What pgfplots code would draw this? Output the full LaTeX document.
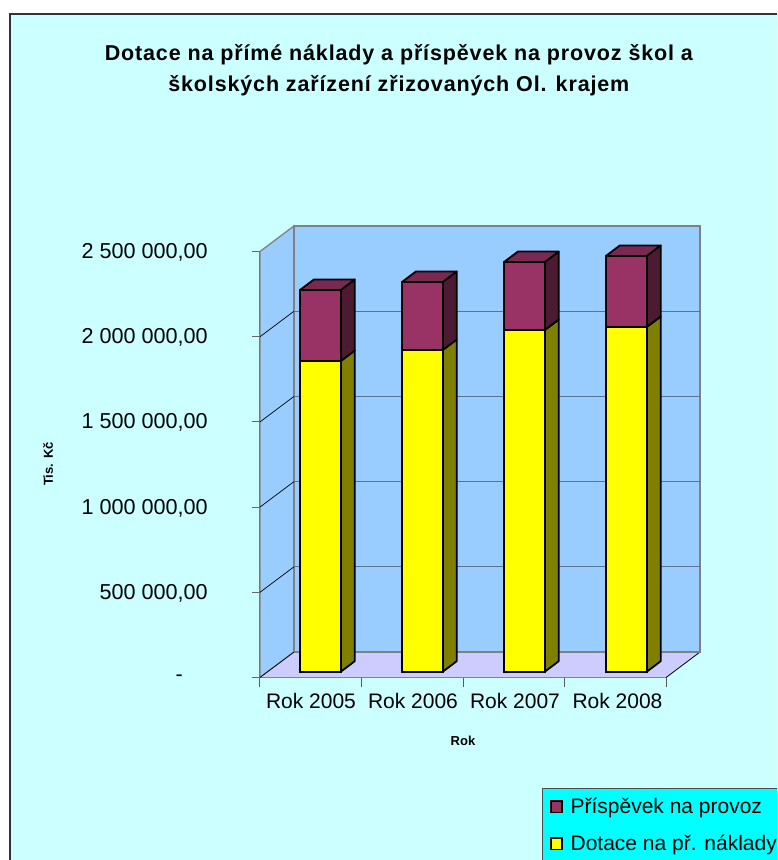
\documentclass[border=0pt]{standalone}
\usepackage{pgfplots}
\pgfplotsset{compat=1.18}
\usepackage{fontspec}
\setmainfont{Liberation Sans}
\newfontfamily\titlefont[LetterSpace=4]{Liberation Sans}
\definecolor{bgc}{HTML}{CCFFFF}
\definecolor{wallc}{HTML}{99CCFF}
\definecolor{floorc}{HTML}{CCCCFF}
\definecolor{maroonc}{HTML}{993366}
\definecolor{maroons}{HTML}{4D1A33}
\definecolor{maroont}{HTML}{7A2952}
\definecolor{yellowc}{HTML}{FFFF00}
\definecolor{yellows}{HTML}{808000}
\definecolor{legc}{HTML}{00FFFF}
\definecolor{gridc}{HTML}{5A7390}
\begin{document}
\begin{tikzpicture}[x=1pt,y=1pt]
\useasboundingbox (0,0) rectangle (777,860);
\clip (0,0) rectangle (777,860);
\draw[fill=bgc,draw=black!80,line width=1.2pt] (10,-10) rectangle (800,846);
% axis with walls, floor, gridlines, scales and labels
\begin{axis}[
  at={(260pt,182.5pt)},anchor=south west,
  scale only axis,width=406pt,height=426pt,
  xmin=0,xmax=4,ymin=0,ymax=2500000,clip=false,
  axis lines*=left,
  axis line style={black!65,line width=1pt},
  scaled y ticks=false,
  xtick={0.502,1.507,2.512,3.522},
  xticklabels={Rok 2005,Rok 2006,Rok 2007,Rok 2008},
  major x tick style={draw=none},
  minor xtick={0,1,2,3,4},
  minor tick length=9pt,
  minor tick style={black!65,line width=1pt},
  ytick={0,500000,1000000,1500000,2000000,2500000},
  yticklabels={{-\hspace*{25pt}},{500 000,00},{1 000 000,00},{1 500 000,00},{2 000 000,00},{2 500 000,00}},
  major y tick style={black!60,line width=1pt},
  tick align=outside,
  major tick length=8pt,
  yticklabel style={font=\fontsize{21.6}{24}\selectfont,inner sep=0pt,xshift=-44pt,yshift=-0.8pt},
  xticklabel style={font=\fontsize{21}{24}\selectfont,inner sep=0pt,yshift=-8pt},
  title={{\titlefont\bfseries Dotace na přímé náklady a příspěvek na provoz škol a}\\[6.5pt]{\titlefont\bfseries školských zařízení zřizovaných Ol. krajem}},
  title style={at={(rel axis cs:0.342,1.412)},anchor=center,align=center,font=\fontsize{21.5}{24}\selectfont,inner sep=0pt},
  xlabel={\bfseries Rok},
  xlabel style={at={(rel axis cs:0.5,-0.149)},anchor=center,font=\fontsize{13}{15}\selectfont,inner sep=0pt},
  ylabel={\bfseries Tis. Kč},
  ylabel style={at={(rel axis cs:-0.522,0.501)},anchor=center,rotate=0,font=\fontsize{13}{15}\selectfont,inner sep=0pt},
]
\addplot[fill=wallc,draw=black!50,line width=1.3pt,forget plot] coordinates {(0,0) (0.335,149650) (0.335,2649650) (0,2500000)} --cycle;
\addplot[fill=wallc,draw=black!50,line width=1.3pt,forget plot] coordinates {(0.335,149650) (4.335,149650) (4.335,2649650) (0.335,2649650)} --cycle;
\addplot[fill=floorc,draw=none,forget plot] coordinates {(0,0) (4,0) (4.335,149650) (0.335,149650)} --cycle;
\addplot[black,line width=0.8pt,forget plot] coordinates {(0,0) (0.335,149650)};
\addplot[black,line width=0.8pt,forget plot] coordinates {(4,0) (4.335,149650)};
\addplot[black!50,line width=1.3pt,forget plot] coordinates {(0.335,149650) (4.335,149650)};
\addplot[black,line width=0.7pt,forget plot] coordinates {(0,500000) (0.335,649650)};
\addplot[black,line width=0.7pt,forget plot] coordinates {(0,1000000) (0.335,1149650)};
\addplot[black,line width=0.7pt,forget plot] coordinates {(0,1500000) (0.335,1649650)};
\addplot[black,line width=0.7pt,forget plot] coordinates {(0,2000000) (0.335,2149650)};
\addplot[gridc,line width=1.2pt,forget plot] coordinates {(0.335,649650) (4.335,649650)};
\addplot[gridc,line width=1.2pt,forget plot] coordinates {(0.335,1149650) (4.335,1149650)};
\addplot[gridc,line width=1.2pt,forget plot] coordinates {(0.335,1649650) (4.335,1649650)};
\addplot[gridc,line width=1.2pt,forget plot] coordinates {(0.335,2149650) (4.335,2149650)};
\end{axis}
% depth faces of the columns
\begin{axis}[
  at={(269.35pt,188.3pt)},anchor=south west,
  scale only axis,width=408pt,height=426pt,
  xmin=0,xmax=4,ymin=0,ymax=2500000,clip=false,hide axis,
]
% 2005
\addplot[fill=yellows,draw=black,line width=1.8pt,line join=round] coordinates {(0.7,0) (0.837,61600) (0.837,1884600) (0.7,1823000)} --cycle;
\addplot[fill=maroons,draw=black,line width=1.8pt,line join=round] coordinates {(0.7,1823000) (0.837,1884600) (0.837,2301600) (0.7,2240000)} --cycle;
\addplot[fill=maroont,draw=black,line width=1.8pt,line join=round] coordinates {(0.3,2240000) (0.437,2301600) (0.837,2301600) (0.7,2240000)} --cycle;
% 2006
\addplot[fill=yellows,draw=black,line width=1.8pt,line join=round] coordinates {(1.7,0) (1.837,61600) (1.837,1949600) (1.7,1888000)} --cycle;
\addplot[fill=maroons,draw=black,line width=1.8pt,line join=round] coordinates {(1.7,1888000) (1.837,1949600) (1.837,2348600) (1.7,2287000)} --cycle;
\addplot[fill=maroont,draw=black,line width=1.8pt,line join=round] coordinates {(1.3,2287000) (1.437,2348600) (1.837,2348600) (1.7,2287000)} --cycle;
% 2007
\addplot[fill=yellows,draw=black,line width=1.8pt,line join=round] coordinates {(2.7,0) (2.837,61600) (2.837,2066600) (2.7,2005000)} --cycle;
\addplot[fill=maroons,draw=black,line width=1.8pt,line join=round] coordinates {(2.7,2005000) (2.837,2066600) (2.837,2465600) (2.7,2404000)} --cycle;
\addplot[fill=maroont,draw=black,line width=1.8pt,line join=round] coordinates {(2.3,2404000) (2.437,2465600) (2.837,2465600) (2.7,2404000)} --cycle;
% 2008
\addplot[fill=yellows,draw=black,line width=1.8pt,line join=round] coordinates {(3.7,0) (3.837,61600) (3.837,2084600) (3.7,2023000)} --cycle;
\addplot[fill=maroons,draw=black,line width=1.8pt,line join=round] coordinates {(3.7,2023000) (3.837,2084600) (3.837,2501600) (3.7,2440000)} --cycle;
\addplot[fill=maroont,draw=black,line width=1.8pt,line join=round] coordinates {(3.3,2440000) (3.437,2501600) (3.837,2501600) (3.7,2440000)} --cycle;
\end{axis}
% front faces of the columns, stacked, with the legend
\begin{axis}[
  at={(269.35pt,188.3pt)},anchor=south west,
  scale only axis,width=408pt,height=426pt,
  xmin=0,xmax=4,ymin=0,ymax=2500000,clip=false,hide axis,
  ybar stacked,bar width=40.7pt,
  reverse legend,
  legend image code/.code={\draw[#1,line width=1.8pt] (0pt,-5.6pt) rectangle (11pt,5.6pt);},
  legend style={at={(rel axis cs:0.668,-0.273)},anchor=north west,
    fill=legc,draw=black!70,line width=0.8pt,
    font=\fontsize{21}{24}\selectfont,
    row sep=16pt,inner xsep=8pt,inner ysep=8pt,
    /tikz/column 2/.style={column sep=0pt},
    /tikz/column 1/.style={column sep=5.5pt},
    legend cell align=left},
]
\addplot[fill=yellowc,draw=black,line width=1.8pt] coordinates {(0.5,1823000) (1.5,1888000) (2.5,2005000) (3.5,2023000)};
\addplot[fill=maroonc,draw=black,line width=1.8pt] coordinates {(0.5,417000) (1.5,399000) (2.5,399000) (3.5,417000)};
\legend{Dotace na př. náklady,Příspěvek na provoz}
\end{axis}
\end{tikzpicture}
\end{document}
